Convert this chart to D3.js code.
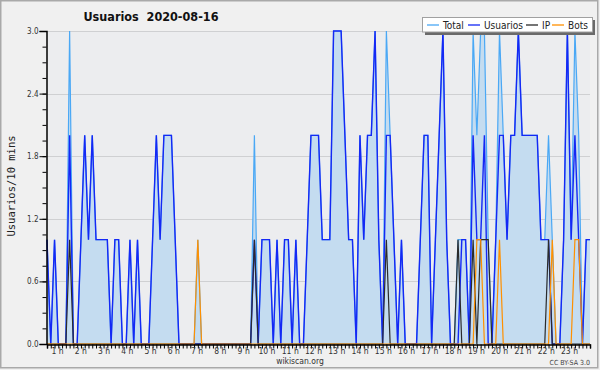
<!DOCTYPE html>
<html>
<head>
<meta charset="utf-8">
<script src="https://cdn.jsdelivr.net/npm/d3@7"></script>
<style>
  body { margin: 0; background: #f0f0f0; }
  svg text { font-family: "DejaVu Sans Condensed", "DejaVu Sans", sans-serif; font-stretch: condensed; }
</style>
</head>
<body>
<div class="chart"></div>
<script>
const width = 600;
const height = 370;
const margin = { top: 31, right: 10, bottom: 26, left: 47 };

// 10 minute buckets, 00:00 .. 24:00
const usuarios = [
  1,0,1,0,0,0,2,0,0,1,  2,1,2,1,1,1,1,0,1,1,
  0,0,1,0,1,0,0,0,1,2,  1,2,2,2,1,0,0,0,0,0,
  0,0,0,0,0,0,0,0,0,0,  0,0,0,0,0,1,0,1,1,1,
  0,1,0,1,1,0,1,0,0,1,  2,2,2,1,1,1,3,3,3,2,
  1,1,0,2,1,2,2,3,1,0,  2,2,1,0,1,0,0,0,0,1,
  2,2,0,1,2,3,1,0,0,0,  1,1,0,2,1,1,2,0,0,1,
  2,2,1,2,2,3,2,2,2,2,  2,1,1,1,0,0,0,1,3,1,
  2,1,0,1,1
];
const ip = [
  0,0,0,0,0,0,1,0,0,0,  0,0,0,0,0,0,0,0,0,0,
  0,0,0,0,0,0,0,0,0,0,  0,0,0,0,0,0,0,0,0,0,
  0,0,0,0,0,0,0,0,0,0,  0,0,0,0,0,1,0,0,0,0,
  0,0,0,0,0,0,0,0,0,0,  0,0,0,0,0,0,0,0,0,0,
  0,0,0,0,0,0,0,0,0,0,  1,0,0,0,0,0,0,0,0,0,
  0,0,0,0,0,0,0,0,0,1,  0,0,0,1,0,1,1,1,0,0,
  0,0,0,0,0,0,0,0,0,0,  0,0,0,1,0,0,0,0,0,0,
  0,0,0,0,0
];
const bots = [
  0,0,0,0,0,0,0,0,0,0,  0,0,0,0,0,0,0,0,0,0,
  0,0,0,0,0,0,0,0,0,0,  0,0,0,0,0,0,0,0,0,0,
  1,0,0,0,0,0,0,0,0,0,  0,0,0,0,0,0,0,0,0,0,
  0,0,0,0,0,0,0,0,0,0,  0,0,0,0,0,0,0,0,0,0,
  0,0,0,0,0,0,0,0,0,0,  0,0,0,0,0,0,0,0,0,0,
  0,0,0,0,0,0,0,0,0,0,  0,0,0,0,1,1,0,0,0,0,
  1,0,0,0,0,0,0,0,0,0,  0,0,0,0,1,0,0,0,0,0,
  1,1,0,0,0
];
const total = [
  1,0,1,0,0,0,3,0,0,1,  2,1,2,1,1,1,1,0,1,1,
  0,0,1,0,1,0,0,0,1,2,  1,2,2,2,1,0,0,0,0,0,
  1,0,0,0,0,0,0,0,0,0,  0,0,0,0,0,2,0,1,1,1,
  0,1,0,1,1,0,1,0,0,1,  2,2,2,1,1,1,3,3,3,2,
  1,1,0,2,1,2,2,3,1,0,  3,2,1,0,1,0,0,0,0,1,
  2,2,0,1,2,3,1,0,0,1,  1,1,0,3,2,3,3,1,0,1,
  3,2,1,2,2,3,2,2,2,2,  2,1,1,2,1,0,0,1,3,1,
  3,2,0,1,1
];

const hourLabels = d3.range(1, 24).map(function(h) { return h + " h"; });
const yTicks = [0, 0.6, 1.2, 1.8, 2.4, 3.0];

const series = [
  { name: "Total", values: total, color: "#4aa8f5", width: 1.2 },
  { name: "Usuarios", values: usuarios, color: "#1428f5", width: 1.4 },
  { name: "IP", values: ip, color: "#2b2b2b", width: 1.2 },
  { name: "Bots", values: bots, color: "#ff9000", width: 1.2 }
];

const svg = d3.select(".chart")
  .append("svg")
  .attr("width", width)
  .attr("height", height);

// frame
svg.append("rect")
  .attr("x", 0.75).attr("y", 0.75)
  .attr("width", width - 3).attr("height", height - 3)
  .attr("fill", "#f0f0f0")
  .attr("stroke", "#a9a9a9")
  .attr("stroke-width", 1.5);

const x = d3.scaleLinear()
  .domain([0, 144])
  .range([margin.left, width - margin.right]);

const y = d3.scaleLinear()
  .domain([0, 3])
  .range([height - margin.bottom, margin.top]);

const plotBottom = y(0);

// plot background
svg.append("rect")
  .attr("x", x(0)).attr("y", y(3))
  .attr("width", x(144) - x(0)).attr("height", y(0) - y(3))
  .attr("fill", "#ecedef");

// grid
svg.append("g")
  .selectAll("line")
  .data(yTicks.filter(function(d) { return d > 0; }))
  .enter()
  .append("line")
  .attr("x1", x(0)).attr("x2", x(144))
  .attr("y1", function(d) { return Math.round(y(d)) + 0.5; })
  .attr("y2", function(d) { return Math.round(y(d)) + 0.5; })
  .attr("stroke", "#cfd0d2")
  .attr("stroke-width", 1);

// filled area under total
const area = d3.area()
  .x(function(d, i) { return x(i); })
  .y0(plotBottom)
  .y1(function(d) { return y(d); });

svg.append("path")
  .datum(total)
  .attr("d", area)
  .attr("fill", "#c4dcf0");

const line = d3.line()
  .x(function(d, i) { return x(i); })
  .y(function(d) { return y(d); });

svg.append("g")
  .selectAll("path")
  .data(series)
  .enter()
  .append("path")
  .attr("d", function(d) { return line(d.values); })
  .attr("fill", "none")
  .attr("stroke", function(d) { return d.color; })
  .attr("stroke-width", function(d) { return d.width; })
  .attr("stroke-linejoin", "miter");

// y axis, minor then major ticks
svg.append("g")
  .attr("transform", "translate(" + (x(0) - 0.5) + ",0)")
  .call(d3.axisLeft(y).tickValues(d3.range(0, 3.01, 0.15)).tickSize(4).tickFormat(""))
  .call(function(g) { g.select(".domain").remove(); })
  .selectAll("line").attr("stroke", "#000");

const yAxis = svg.append("g")
  .attr("transform", "translate(" + (x(0) - 0.5) + ",0)")
  .call(d3.axisLeft(y).tickValues(yTicks).tickSize(7).tickPadding(1).tickFormat(d3.format(".1f")));
yAxis.select(".domain").attr("stroke", "#000").attr("stroke-width", 1.5);
yAxis.selectAll("text").attr("font-size", 8).attr("fill", "#333")
  .style("font-family", "'DejaVu Sans Condensed', 'DejaVu Sans', sans-serif");

// x axis, one tick every 10 minutes
const xAxis = svg.append("g")
  .attr("transform", "translate(0," + (plotBottom + 0.5) + ")")
  .call(d3.axisBottom(x).tickValues(d3.range(0, 145)).tickSize(4).tickFormat(""));
xAxis.select(".domain").attr("stroke", "#000").attr("stroke-width", 1.5);
xAxis.selectAll("line").attr("stroke", "#000");

// hour labels
const xLabel = d3.scaleLinear()
  .domain([1, 23])
  .range([57.5, 569.5]);

svg.append("g")
  .selectAll("text")
  .data(hourLabels)
  .enter()
  .append("text")
  .attr("x", function(d, i) { return xLabel(i + 1); })
  .attr("y", 354)
  .attr("text-anchor", "middle")
  .attr("font-size", 8.5)
  .attr("fill", "#333")
  .text(function(d) { return d; });

// titles
svg.append("text")
  .attr("x", 151).attr("y", 21)
  .attr("text-anchor", "middle")
  .attr("font-size", 12.5)
  .attr("font-weight", "bold")
  .attr("fill", "#111")
  .attr("xml:space", "preserve")
  .text("Usuarios  2020-08-16");

svg.append("text")
  .attr("transform", "translate(15,186) rotate(-90)")
  .attr("text-anchor", "middle")
  .style("font-family", "'DejaVu Sans Mono', monospace")
  .style("font-stretch", "normal")
  .attr("font-size", 10.5)
  .attr("fill", "#222")
  .text("Usuarios/10 mins");

svg.append("text")
  .attr("x", 300).attr("y", 364)
  .attr("text-anchor", "middle")
  .attr("font-size", 8.5)
  .attr("fill", "#333")
  .text("wikiscan.org");

svg.append("text")
  .attr("x", 590).attr("y", 365)
  .attr("text-anchor", "end")
  .attr("font-size", 7)
  .attr("fill", "#444")
  .text("CC BY-SA 3.0");

// legend
const legend = svg.append("g").attr("transform", "translate(422,17)");
legend.append("rect")
  .attr("x", 3).attr("y", 3).attr("width", 170).attr("height", 15)
  .attr("fill", "#6a6a6a");
legend.append("rect")
  .attr("x", 0.5).attr("y", 0.5).attr("width", 170).attr("height", 14.5)
  .attr("fill", "#fff")
  .attr("stroke", "#a0a0a0")
  .attr("stroke-width", 1);

const legendX = [5, 46, 104, 130];
const items = legend.selectAll("g.item")
  .data(series)
  .enter()
  .append("g")
  .attr("class", "item")
  .attr("transform", function(d, i) { return "translate(" + legendX[i] + ",0)"; });

items.append("line")
  .attr("x1", 0).attr("x2", 12)
  .attr("y1", 8).attr("y2", 8)
  .attr("stroke", function(d) { return d.color; })
  .attr("stroke-width", 1.3);

items.append("text")
  .attr("x", 16).attr("y", 11.5)
  .attr("font-size", 10)
  .attr("fill", "#222")
  .text(function(d) { return d.name; });
</script>
</body>
</html>
